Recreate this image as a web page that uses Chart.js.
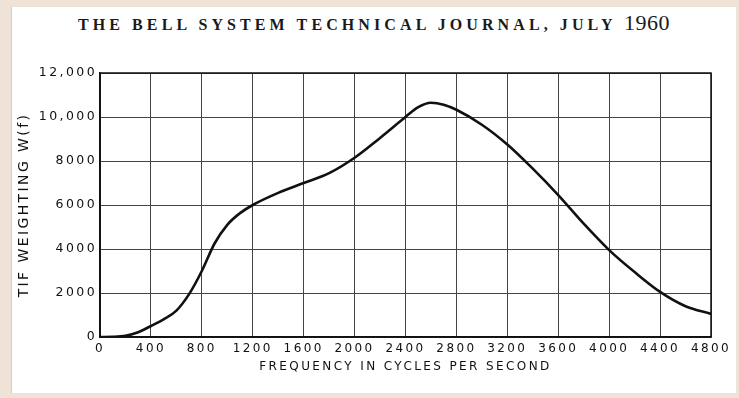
<!DOCTYPE html>
<html>
<head>
<meta charset="utf-8">
<script src="https://cdn.jsdelivr.net/npm/chart.js@4.4.0/dist/chart.umd.min.js"></script>
<style>
  html, body { margin: 0; padding: 0; }
  body { width: 739px; height: 398px; background: #efe2d7; position: relative; overflow: hidden; }
  #sheet { position: absolute; left: 11px; top: 7px; width: 724px; height: 386px; background: #fff; border-left: 1px solid #d9cdc3; }
  #heading {
    position: absolute; left: 72px; top: 10px; width: 604px; text-align: center;
    font-family: "Liberation Serif", "DejaVu Serif", serif; font-size: 16px; font-weight: bold;
    letter-spacing: 4.1px; color: #1a1a1a; white-space: nowrap;
  }
  #heading .yr { font-size: 22px; font-weight: normal; letter-spacing: 0.5px; }
  #wrap { position: absolute; left: 0; top: 0; width: 739px; height: 398px; }
</style>
</head>
<body>
<div id="sheet"></div>
<div id="heading">THE BELL SYSTEM TECHNICAL JOURNAL, JULY <span class="yr">1960</span></div>
<div id="wrap"><canvas id="tif"></canvas></div>
<script>
/* ---------------------------------------------------------
   TIF weighting curve, W(f) against frequency
--------------------------------------------------------- */
const freqs = [0, 100, 200, 300, 400, 500, 600, 700, 800, 900, 1000, 1100, 1200,
  1400, 1600, 1800, 2000, 2200, 2400, 2500, 2600, 2700, 2800, 3000, 3200,
  3400, 3600, 3800, 4000, 4200, 4400, 4600, 4800];
const weights = [0, 10, 60, 220, 500, 800, 1200, 1950, 3000, 4250, 5100, 5630, 6000,
  6550, 7000, 7450, 8150, 9050, 10000, 10450, 10650, 10560, 10330, 9650, 8750,
  7650, 6450, 5150, 3950, 2950, 2050, 1400, 1050];

const yTickLabels = ["0", "2000", "4000", "6000", "8000", "10,000", "12,000"];
const xTickLabels = ["0", "400", "800", "1200", "1600", "2000", "2400",
  "2800", "3200", "3600", "4000", "4400", "4800"];

const points = freqs.map((f, i) => ({ x: f, y: weights[i] }));

const INK = "#111";
const GRID = "#444";
const sans = "'DejaVu Sans', sans-serif";

// spaced-out lettering on the axes, re-applied since a canvas resize clears it
const spacing = {
  id: "spacing",
  beforeLayout(chart) { chart.ctx.letterSpacing = "2.4px"; },
  beforeDraw(chart) { chart.ctx.letterSpacing = "2.4px"; }
};

// closed frame round the plot
const frame = {
  id: "frame",
  afterDatasetsDraw(chart) {
    const { ctx, chartArea: a } = chart;
    ctx.save();
    ctx.strokeStyle = INK;
    ctx.lineWidth = 1.5;
    ctx.strokeRect(a.left, a.top, a.right - a.left, a.bottom - a.top);
    ctx.restore();
  }
};

new Chart(document.getElementById("tif"), {
  type: "line",
  data: {
    datasets: [{
      data: points,
      borderColor: INK,
      borderWidth: 2.6,
      pointRadius: 0,
      fill: false,
      cubicInterpolationMode: "monotone"
    }]
  },
  options: {
    responsive: true,
    maintainAspectRatio: false,
    animation: false,
    events: [],
    layout: { padding: { left: 0, top: 73, right: 28, bottom: 0 } },
    plugins: { legend: { display: false }, tooltip: { enabled: false } },
    scales: {
      x: {
        type: "linear",
        min: 0,
        max: 4800,
        afterFit(s) { s.height = 61; },
        grid: { color: GRID, lineWidth: 1, drawTicks: false },
        border: { color: INK, width: 1.5 },
        ticks: {
          stepSize: 400,
          padding: 5,
          color: INK,
          font: { family: sans, size: 12 },
          maxRotation: 0,
          autoSkip: false,
          callback: (v, i) => xTickLabels[i]
        },
        title: {
          display: true,
          text: "FREQUENCY IN CYCLES PER SECOND",
          color: INK,
          font: { family: sans, size: 12 },
          padding: { top: 0, bottom: 24 }
        }
      },
      y: {
        min: 0,
        max: 12000,
        afterFit(s) { s.width = 100; },
        grid: { color: GRID, lineWidth: 1, drawTicks: false },
        border: { color: INK, width: 1.5 },
        ticks: {
          stepSize: 2000,
          padding: 3,
          color: INK,
          font: { family: sans, size: 12.5 },
          callback: (v, i) => yTickLabels[i]
        },
        title: {
          display: true,
          text: "TIF WEIGHTING W(f)",
          color: INK,
          font: { family: sans, size: 14 },
          padding: { top: 16, bottom: 0 }
        }
      }
    }
  },
  plugins: [spacing, frame]
});
</script>
</body>
</html>
